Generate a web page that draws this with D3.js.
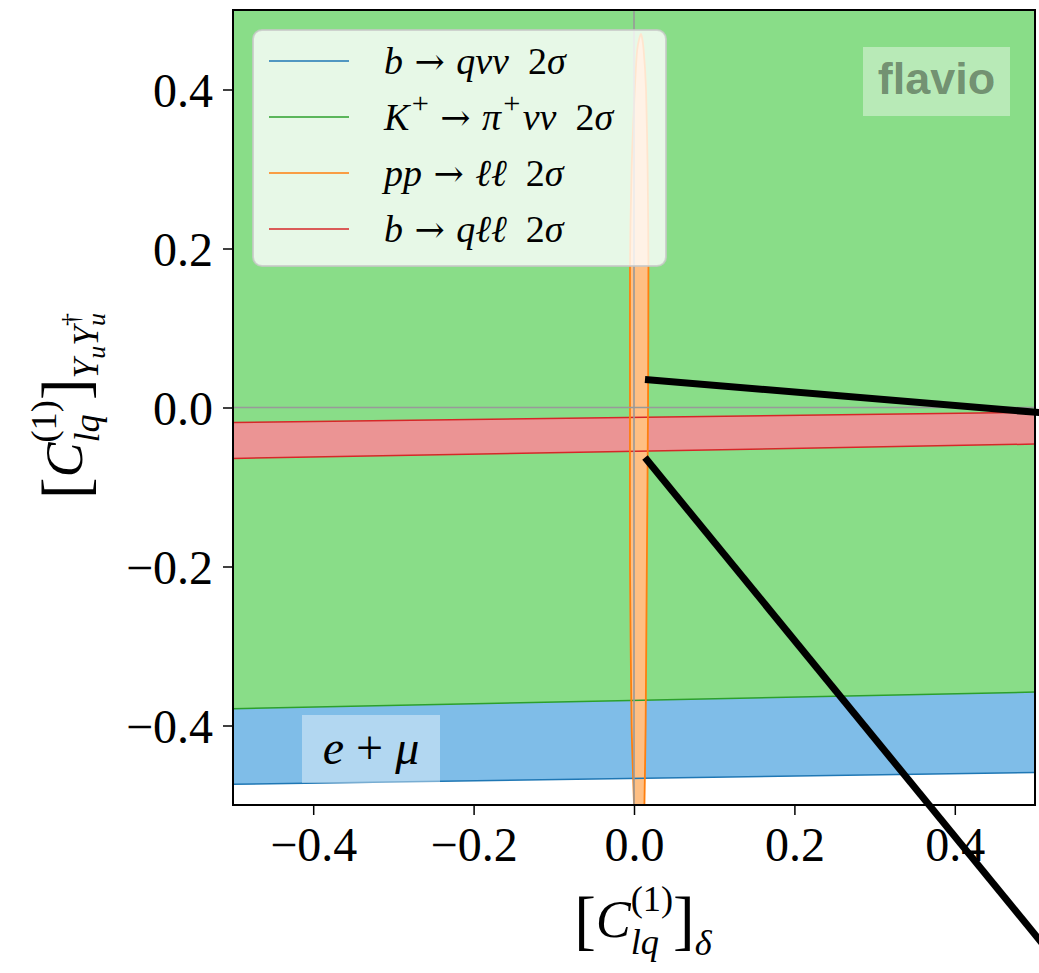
<!DOCTYPE html>
<html>
<head>
<meta charset="utf-8">
<script src="https://cdn.jsdelivr.net/npm/d3@7"></script>
<style>
  body { margin: 0; background: #fff; }
  svg { display: block; font-family: "Liberation Serif", "DejaVu Serif", serif; }
  svg text { white-space: pre; }
</style>
</head>
<body>
<svg class="chart" width="1039" height="973"></svg>
<script>
var svg = d3.select("svg.chart");
var W = 1039, H = 973;
var margin = {top: 10, right: 4, bottom: 168, left: 233};

// ticks
var xTicks = [-0.4, -0.2, 0.0, 0.2, 0.4];
var yTicks = [-0.4, -0.2, 0.0, 0.2, 0.4];

// band edges, [x, y] at the left and right of the window
var bqnunuLower = [[-0.5, -0.474], [0.5, -0.459]];
var bqnunuUpper = [[-0.5, 0.5], [0.5, 0.5]];
var kpinunuLower = [[-0.5, -0.379], [0.5, -0.358]];
var kpinunuUpper = [[-0.5, 0.5], [0.5, 0.5]];
var bqllUpper = [[-0.5, -0.019], [0.5, -0.006]];
var bqllLower = [[-0.5, -0.064], [0.5, -0.046]];

// pp -> ll 2 sigma contour (goes below the window)
var ppllContour = [
  [0.0087, 0.470], [0.012, 0.450], [0.015, 0.400], [0.017, 0.300], [0.018, 0.180],
  [0.0175, 0.000], [0.016, -0.200], [0.0145, -0.400], [0.013, -0.500], [0.012, -0.600],
  [0.008, -0.640], [0.001, -0.600], [0.000, -0.500], [-0.003, -0.400], [-0.005, -0.200],
  [-0.005, 0.000], [-0.005, 0.180], [-0.003, 0.300], [0.001, 0.400], [0.004, 0.450]
];

// the two thick black strokes
var strokes = [
  [[0.0137, 0.0352], [0.62, -0.0161]],
  [[0.0137, -0.0629], [0.62, -0.811]]
];

var legendLabels = ["bqnunu", "kpinunu", "ppll", "bqll"];
var colors = {bqnunu: "#1f77b4", kpinunu: "#2ca02c", ppll: "#ff7f0e", bqll: "#d62728"};
var fills = {bqnunu: "#7fbde8", kpinunu: "#89dd88", ppll: "#ffbf83", bqll: "#eb9494"};

var x = d3.scaleLinear().domain([-0.5, 0.5]).range([margin.left, margin.left + 802]);
var y = d3.scaleLinear().domain([-0.5, 0.5]).range([margin.top + 795, margin.top]);

svg.append("defs").append("clipPath").attr("id", "plotclip")
  .append("rect")
    .attr("x", x(-0.5)).attr("y", y(0.5))
    .attr("width", x(0.5) - x(-0.5)).attr("height", y(-0.5) - y(0.5));

var plot = svg.append("g").attr("clip-path", "url(#plotclip)");

var line = d3.line().x(function(d) { return x(d[0]); }).y(function(d) { return y(d[1]); });
var smooth = d3.line().x(function(d) { return x(d[0]); }).y(function(d) { return y(d[1]); })
    .curve(d3.curveCardinalClosed.tension(0.3));
function band(lower, upper) {
  return lower.concat(upper.slice().reverse());
}

// fills
plot.append("path").datum(band(bqnunuLower, bqnunuUpper))
    .attr("fill", fills.bqnunu).attr("d", line);
plot.append("path").datum(band(kpinunuLower, kpinunuUpper))
    .attr("fill", fills.kpinunu).attr("d", line);
plot.append("path").datum(band(bqllLower, bqllUpper))
    .attr("fill", fills.bqll).attr("d", line);
plot.append("path").datum(ppllContour)
    .attr("fill", fills.ppll).attr("d", smooth);

// edges
[[bqnunuLower, "bqnunu"], [kpinunuLower, "kpinunu"], [bqllUpper, "bqll"], [bqllLower, "bqll"]]
  .forEach(function(e) {
    plot.append("path").datum(e[0])
      .attr("fill", "none").attr("stroke", colors[e[1]]).attr("stroke-width", 1.5)
      .attr("d", line);
  });
plot.append("path").datum(ppllContour)
    .attr("fill", "none").attr("stroke", colors.ppll).attr("stroke-width", 1.8)
    .attr("d", smooth);

// zero lines
plot.append("line")
    .attr("x1", x(0)).attr("x2", x(0)).attr("y1", y(0.5)).attr("y2", y(-0.5))
    .attr("stroke", "#999").attr("stroke-width", 1.6);
plot.append("line")
    .attr("x1", x(-0.5)).attr("x2", x(0.5)).attr("y1", y(0)).attr("y2", y(0))
    .attr("stroke", "#999").attr("stroke-width", 1.6);

// axes
function fmt(d) { return (d < 0 ? "\u2212" : "") + Math.abs(d).toFixed(1); }
var xAxis = svg.append("g").attr("transform", "translate(0," + y(-0.5) + ")")
    .call(d3.axisBottom(x).tickValues(xTicks).tickFormat(fmt).tickSize(10).tickPadding(12));
var yAxis = svg.append("g").attr("transform", "translate(" + x(-0.5) + ",0)")
    .call(d3.axisLeft(y).tickValues(yTicks).tickFormat(fmt).tickSize(10).tickPadding(10));
[xAxis, yAxis].forEach(function(a) {
  a.select(".domain").remove();
  a.selectAll(".tick line").attr("stroke", "#000").attr("stroke-width", 1.5);
  a.selectAll(".tick text").attr("font-size", 48).attr("font-family", "Liberation Serif").attr("fill", "#000");
});
xAxis.selectAll(".tick text").attr("dy", "0.71em");
yAxis.selectAll(".tick text").attr("dy", "0.36em");

svg.append("rect")
    .attr("x", x(-0.5)).attr("y", y(0.5))
    .attr("width", x(0.5) - x(-0.5)).attr("height", y(-0.5) - y(0.5))
    .attr("fill", "none").attr("stroke", "#000").attr("stroke-width", 2);

// math-ish text: pieces placed one after the other, "stack" puts a script under the previous one
function mathText(parent, pieces, size) {
  var g = parent.append("g");
  var cx = 0, lastStart = 0, lastEnd = 0;
  pieces.forEach(function(p) {
    var k = p.k || 1;
    var start = (p.stack ? lastStart : cx) + (p.dx || 0) * size;
    var t = g.append("text")
      .attr("xml:space", "preserve")
      .attr("x", start).attr("y", -(p.up || 0) * size)
      .attr("font-size", size * k)
      .attr("font-style", p.it ? "italic" : "normal")
      .attr("fill", "#000")
      .text(p.s);
    if (p.font) t.attr("font-family", p.font);
    var end = start + t.node().getComputedTextLength();
    cx = p.stack ? Math.max(lastEnd, end) : end;
    lastStart = start; lastEnd = end;
  });
  return {g: g, width: cx};
}

// legend
var legend = svg.append("g");
legend.append("rect")
    .attr("x", 253).attr("y", 30).attr("width", 413).attr("height", 236).attr("rx", 9)
    .attr("fill", "#fff").attr("fill-opacity", 0.8)
    .attr("stroke", "#c8c8c8").attr("stroke-opacity", 0.8).attr("stroke-width", 2);
var arrow = {s: " \u2192 ", font: "DejaVu Serif", k: 0.95};
var sup = {s: "+", k: 0.8, up: 0.45, dx: 0.06};
var legendText = {
  bqnunu: [{s: "b", it: 1}, arrow, {s: "q\u03bd\u03bd", it: 1}, {s: "  2"}, {s: "\u03c3", it: 1}],
  kpinunu: [{s: "K", it: 1}, sup, arrow, {s: "\u03c0", it: 1}, sup,
            {s: "\u03bd\u03bd", it: 1, dx: 0.06}, {s: "  2"}, {s: "\u03c3", it: 1}],
  ppll: [{s: "pp", it: 1}, arrow, {s: "\u2113\u2113", it: 1}, {s: "  2"}, {s: "\u03c3", it: 1}],
  bqll: [{s: "b", it: 1}, arrow, {s: "q\u2113\u2113", it: 1}, {s: "  2"}, {s: "\u03c3", it: 1}]
};
legendLabels.forEach(function(key, i) {
  var ly = 61 + i * 56;
  legend.append("line").attr("x1", 269).attr("x2", 349).attr("y1", ly).attr("y2", ly)
      .attr("stroke", colors[key]).attr("stroke-width", 1.5);
  var m = mathText(legend, legendText[key], 38);
  m.g.attr("transform", "translate(384," + (ly + 13) + ")");
});

// flavio tag
svg.append("rect").attr("x", 863).attr("y", 47).attr("width", 147).attr("height", 69)
    .attr("fill", "#fff").attr("fill-opacity", 0.4);
svg.append("text").attr("x", 936.5).attr("y", 94).attr("text-anchor", "middle")
    .attr("font-family", "Liberation Sans, Arial, sans-serif").attr("font-weight", "bold")
    .attr("font-size", 45).attr("fill", "#000").attr("fill-opacity", 0.4).text("flavio");

// e + mu tag
svg.append("rect").attr("x", 302).attr("y", 715).attr("width", 138).attr("height", 68)
    .attr("fill", "#fff").attr("fill-opacity", 0.4);
var em = mathText(svg, [{s: "e", it: 1}, {s: " + "}, {s: "\u03bc", it: 1}], 48);
em.g.attr("transform", "translate(" + (371 - em.width / 2) + ",764)");

// axis labels
var xl = mathText(svg, [
  {s: "[", k: 1.25, up: -0.1}, {s: "C", it: 1}, {s: "(1)", k: 0.7, up: 0.5},
  {s: "lq", it: 1, k: 0.7, up: -0.32, stack: 1}, {s: "]", k: 1.25, up: -0.1},
  {s: "\u03b4", it: 1, k: 0.7, up: -0.35}
], 52);
xl.g.attr("transform", "translate(" + (643 - xl.width / 2) + ",937)");

var yl = mathText(svg, [
  {s: "[", k: 1.25, up: -0.1}, {s: "C", it: 1}, {s: "(1)", k: 0.7, up: 0.5},
  {s: "lq", it: 1, k: 0.7, up: -0.32, stack: 1}, {s: "]", k: 1.25, up: -0.1},
  {s: "Y", it: 1, k: 0.68, up: -0.3}, {s: "u", it: 1, k: 0.5, up: -0.45},
  {s: "Y", it: 1, k: 0.68, up: -0.3}, {s: "u", it: 1, k: 0.5, up: -0.45},
  {s: "\u2020", k: 0.5, up: 0.05, stack: 1}
], 52);
yl.g.attr("transform", "translate(82," + (406 + yl.width / 2) + ") rotate(-90)");

// thick black strokes, not clipped
strokes.forEach(function(s) {
  svg.append("path").datum(s)
    .attr("fill", "none").attr("stroke", "#000").attr("stroke-width", 7)
    .attr("d", line);
});
</script>
</body>
</html>
